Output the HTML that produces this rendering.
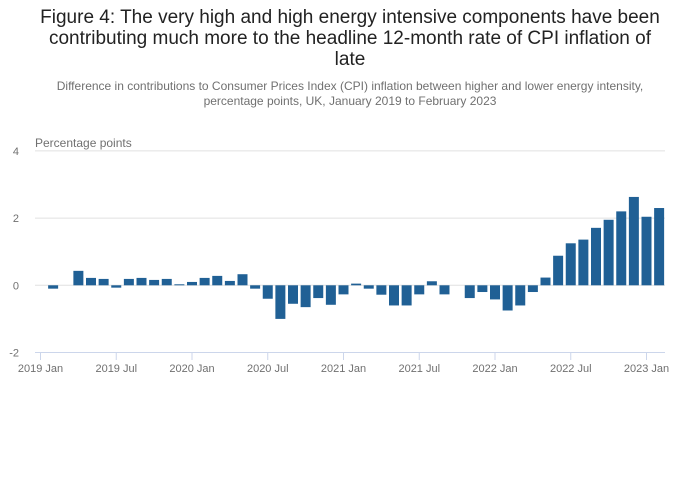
<!DOCTYPE html>
<html><head><meta charset="utf-8"><style>
body{margin:0;background:#fff;font-family:"Liberation Sans",sans-serif;}
#wrap{position:relative;width:700px;height:502px;}
h1{position:absolute;top:7px;left:0;width:700px;margin:0;text-align:center;font-weight:normal;font-size:19px;line-height:21px;color:#222;}
.sub{position:absolute;top:79px;left:0;width:700px;text-align:center;font-size:12px;line-height:15px;color:#707070;}
</style></head><body>
<div id="wrap">
<h1>Figure 4: The very high and high energy intensive components have been<br>contributing much more to the headline 12-month rate of CPI inflation of<br>late</h1>
<div class="sub">Difference in contributions to Consumer Prices Index (CPI) inflation between higher and lower energy intensity,<br>percentage points, UK, January 2019 to February 2023</div>
<svg id="chart" width="700" height="502" style="position:absolute;left:0;top:0"></svg>
</div>
<script>
const values=[0,-0.1,0,0.43,0.22,0.19,-0.07,0.19,0.22,0.16,0.19,0.03,
0.1,0.22,0.28,0.13,0.33,-0.1,-0.4,-1.0,-0.55,-0.65,-0.38,-0.58,
-0.27,0.05,-0.1,-0.28,-0.6,-0.6,-0.27,0.12,-0.27,0,-0.38,-0.2,
-0.42,-0.75,-0.6,-0.2,0.23,0.88,1.25,1.36,1.71,1.95,2.2,2.63,
2.04,2.3];
const yTicks=[4,2,0,-2];
const xTickLabels=["2019 Jan","2019 Jul","2020 Jan","2020 Jul","2021 Jan","2021 Jul","2022 Jan","2022 Jul","2023 Jan"];
const xTickIndex=[0,6,12,18,24,30,36,42,48];
const NS="http://www.w3.org/2000/svg";
const svg=document.getElementById('chart');
const y=v=>285.3-v*33.6;
const x=i=>40.5+i*12.625;
function mk(t,a){const e=document.createElementNS(NS,t);for(const k in a)e.setAttribute(k,a[k]);svg.appendChild(e);return e;}
yTicks.forEach(v=>{
 if(v>-2){const g=mk('line',{x1:35,x2:665,y1:y(v),y2:y(v),stroke:'#e0e0e0','stroke-width':1});
 
 }
 const t=mk('text',{x:19,y:y(v)+4,'text-anchor':'end','font-size':11,fill:'#707070'});t.textContent=v;
 
 
});
const yt=mk('text',{x:35,y:147,'font-size':12,fill:'#707070'});yt.textContent='Percentage points';


const ax=mk('line',{x1:35,x2:665,y1:352.5,y2:352.5,stroke:'#ccd6eb','stroke-width':1});


xTickIndex.forEach((idx,k)=>{
 const l=mk('line',{x1:x(idx),x2:x(idx),y1:352,y2:360,stroke:'#ccd6eb'});
 
 
 const t=mk('text',{x:x(idx),y:372,'text-anchor':'middle','font-size':11,fill:'#707070'});t.textContent=xTickLabels[k];
 
 
});
values.forEach((v,i)=>{
 if(v===0)return;
 const top=Math.min(y(v),y(0)),h=Math.abs(y(v)-y(0));
 const r=mk('rect',{x:x(i)-5,y:top,width:10,height:h,fill:'#206095'});
 
 
});
</script>
</body></html>
